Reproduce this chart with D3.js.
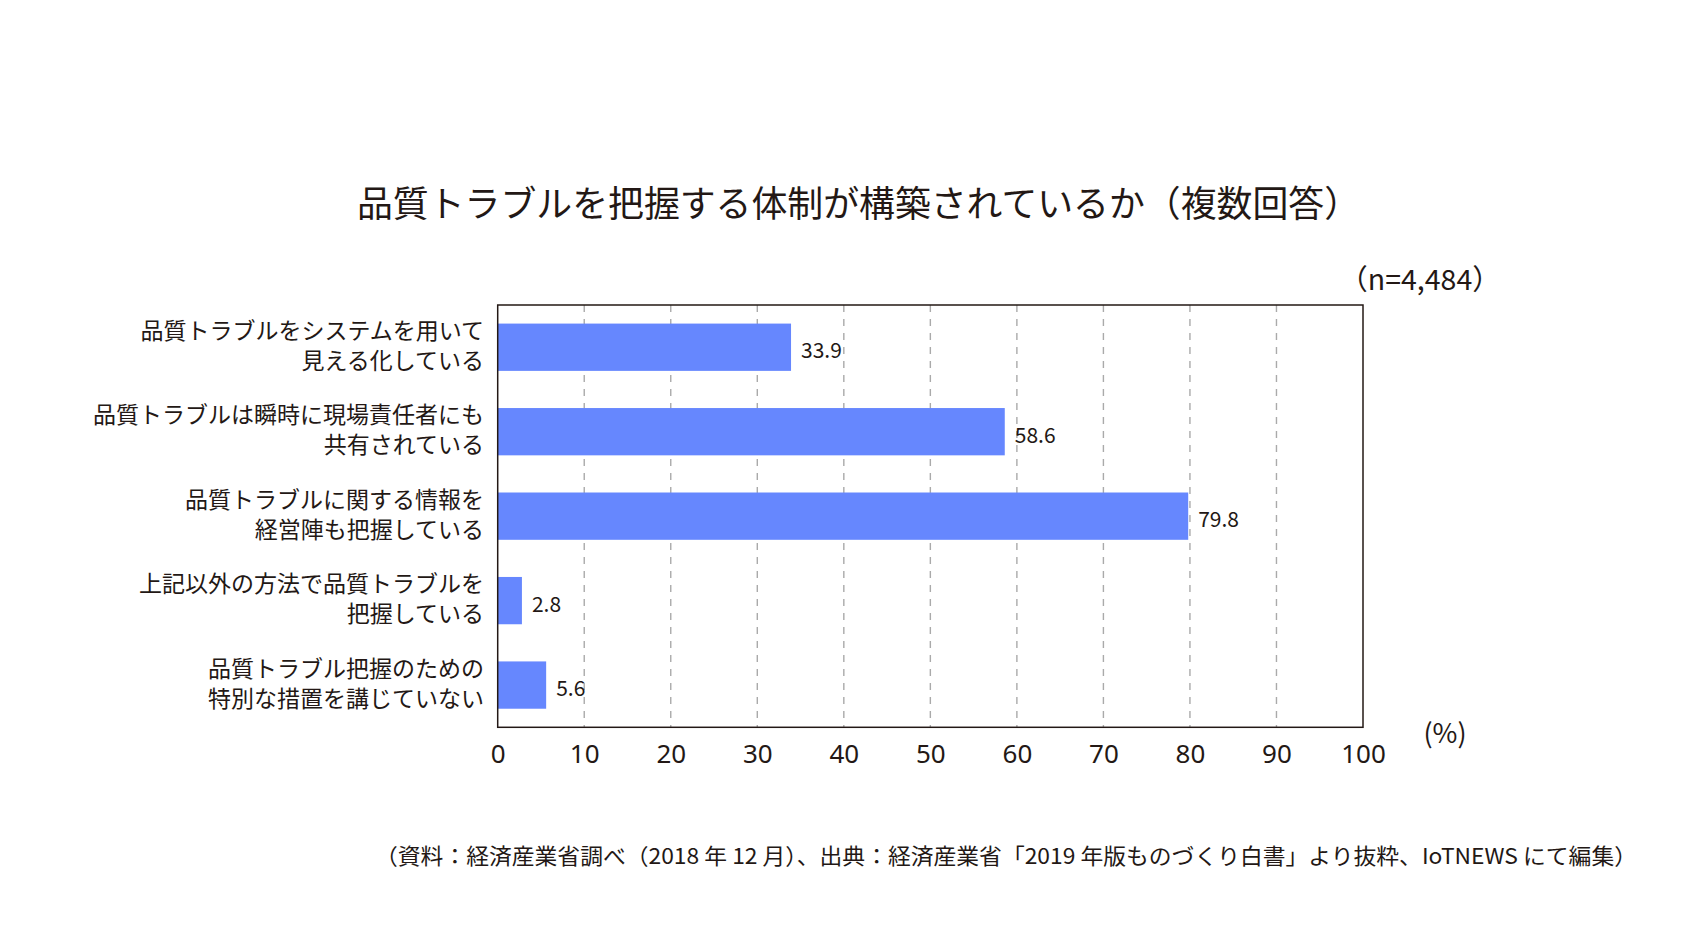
<!DOCTYPE html>
<html><head><meta charset="utf-8">
<script src="https://cdn.jsdelivr.net/npm/d3@7"></script>
<style>
html,body{margin:0;padding:0;background:#fff;}
text{font-family:"Noto Sans CJK JP","Noto Sans",sans-serif;fill:#231815;}
</style></head>
<body>
<svg id="chart" width="1700" height="940"></svg>
<script>
const title = "品質トラブルを把握する体制が構築されているか（複数回答）";
const categories = [
  ["品質トラブルをシステムを用いて", "見える化している"],
  ["品質トラブルは瞬時に現場責任者にも", "共有されている"],
  ["品質トラブルに関する情報を", "経営陣も把握している"],
  ["上記以外の方法で品質トラブルを", "把握している"],
  ["品質トラブル把握のための", "特別な措置を講じていない"]
];
const values = [33.9, 58.6, 79.8, 2.8, 5.6];
const xTicks = [0, 10, 20, 30, 40, 50, 60, 70, 80, 90, 100];
const nLabel = "（n=4,484）";
const unitLabel = "(%)";
const source = "（資料：経済産業省調べ（2018 年 12 月）、出典：経済産業省「2019 年版ものづくり白書」より抜粋、IoTNEWS にて編集）";

const svg = d3.select("#chart");
const m = {left: 497.7, right: 1363, top: 305, bottom: 727.3};

const x = d3.scaleLinear().domain([0, 100]).range([m.left, m.right]);
const y = d3.scaleBand().domain(d3.range(categories.length)).range([m.top, m.bottom]).paddingInner(0.44).paddingOuter(0.22);

// title
svg.append("text").attr("x", 357).attr("y", 201).attr("text-anchor", "start")
  .attr("dominant-baseline", "central").style("font-size", "36px")
  .attr("textLength", 1003).attr("lengthAdjust", "spacingAndGlyphs").text(title);

// grid lines
svg.append("g").selectAll("line").data(xTicks.filter(t => t > 0 && t < 100)).join("line")
  .attr("x1", d => x(d)).attr("x2", d => x(d)).attr("y1", m.top).attr("y2", m.bottom)
  .attr("stroke", "#aaaaaa").attr("stroke-width", 1.4).attr("stroke-dasharray", "7,7");

// bars
svg.append("g").selectAll("rect").data(values).join("rect")
  .attr("x", x(0)).attr("y", (d, i) => y(i))
  .attr("width", d => x(d) - x(0)).attr("height", y.bandwidth())
  .attr("fill", "#6687fe");

// value labels
svg.append("g").selectAll("text").data(values).join("text")
  .attr("x", d => x(d) + 10).attr("y", (d, i) => y(i) + y.bandwidth() / 2 + 2)
  .attr("dominant-baseline", "central").style("font-size", "21px")
  .text(d => d.toFixed(1));

// frame
svg.append("rect").attr("x", m.left).attr("y", m.top)
  .attr("width", m.right - m.left).attr("height", m.bottom - m.top)
  .attr("fill", "none").attr("stroke", "#231815").attr("stroke-width", 1.5);

// x axis
const xAxis = svg.append("g").attr("transform", `translate(0,${m.bottom})`)
  .call(d3.axisBottom(x).tickValues(xTicks).tickSize(0).tickPadding(0).tickFormat(d3.format("d")));
xAxis.select(".domain").remove();
xAxis.selectAll("text").attr("y", 26).attr("dy", null).attr("dominant-baseline", "central")
  .style("font-size", "26px").style("font-family", '"Noto Sans","Noto Sans CJK JP",sans-serif').attr("fill", "#231815");

// category labels
const cat = svg.append("g").selectAll("text").data(categories).join("text")
  .attr("text-anchor", "end").style("font-size", "23px")
  .attr("y", (d, i) => y(i) + y.bandwidth() / 2);
cat.selectAll("tspan").data(d => d).join("tspan")
  .attr("x", 484).attr("dy", (d, j) => j === 0 ? "-0.36em" : "1.3em")
  .text(d => d);

// n label and unit
svg.append("text").attr("x", 1420).attr("y", 277).attr("text-anchor", "middle")
  .attr("dominant-baseline", "central").style("font-size", "28.5px").text(nLabel);
svg.append("text").attr("x", 1445).attr("y", 731).attr("text-anchor", "middle")
  .attr("dominant-baseline", "central").style("font-size", "27px").text(unitLabel);

// source
svg.append("text").attr("x", 375).attr("y", 854).attr("text-anchor", "start")
  .attr("dominant-baseline", "central").style("font-size", "22px")
  .attr("textLength", 1262).attr("lengthAdjust", "spacingAndGlyphs").text(source);
</script>
</body></html>
